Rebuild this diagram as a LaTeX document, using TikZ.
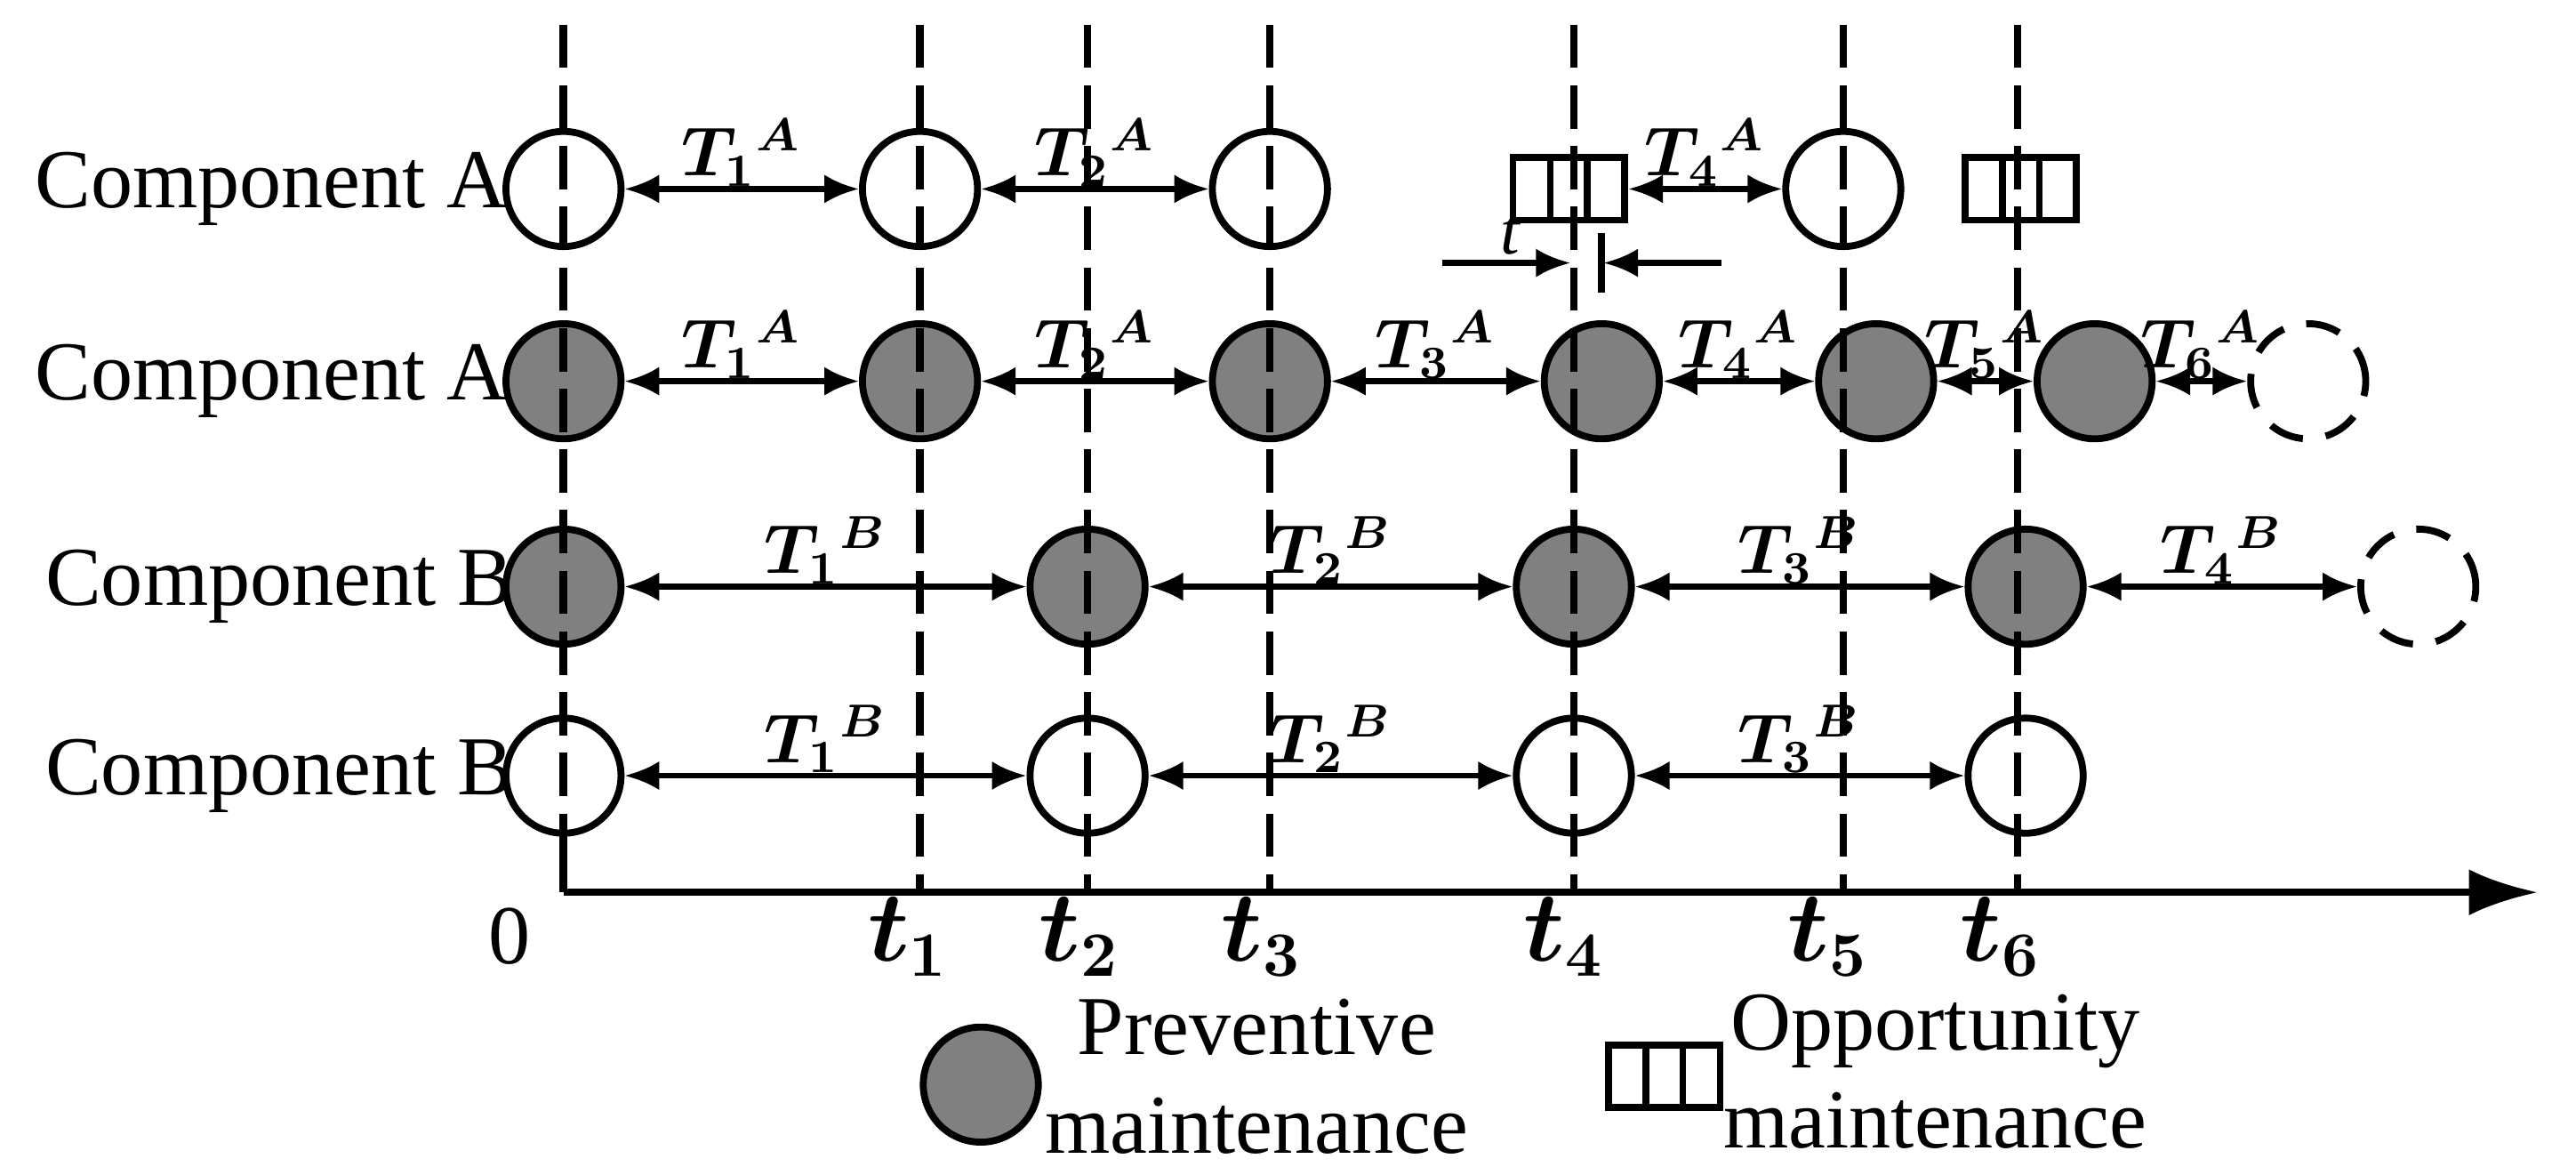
\documentclass[tikz,border=0pt]{standalone}
\usepackage{fontspec}
\usepackage{amsmath,bm}
\setmainfont{Liberation Serif}
\usetikzlibrary{arrows.meta}
\begin{document}
\begin{tikzpicture}[x=0.01cm,y=-0.01cm,
  pm/.style={circle,draw,line width=1.2pt,fill=black!50,minimum size=0.7cm,inner sep=0},
  wc/.style={circle,draw,line width=1.2pt,fill=white,minimum size=0.7cm,inner sep=0},
  dc/.style={circle,draw,line width=1.2pt,dash pattern=on 6pt off 4pt,minimum size=0.7cm,inner sep=0},
  om/.style={draw,line width=1.2pt,fill=white,minimum width=0.68cm,minimum height=0.38cm,inner sep=0,
    path picture={\draw[line width=1.2pt] ([xshift=-0.113cm]path picture bounding box.north) -- ([xshift=-0.113cm]path picture bounding box.south);
      \draw[line width=1.2pt] ([xshift=0.113cm]path picture bounding box.north) -- ([xshift=0.113cm]path picture bounding box.south);}},
  dl/.style={line width=1.3pt,dash pattern=on 7.5pt off 3pt},
  ar/.style={{Latex[length=6pt,width=5pt]}-{Latex[length=6pt,width=5pt]},line width=1pt},
  tl/.style={font=\fontsize{12}{14}\selectfont,inner sep=1pt,above=-1pt},
  txt/.style={font=\fontsize{14.5}{17}\selectfont}]
\useasboundingbox (0,0) rectangle (1568,710);
% row labels
\node[txt] (la1) at (165,115) {Component A};
\node[txt] (la2) at (165,232) {Component A};
\node[txt] (lb1) at (170,357) {Component B};
\node[txt] (lb2) at (170,472) {Component B};
% row 1
\node[wc] (a1) at (343,115) {};
\node[wc] (a2) at (560,115) {};
\node[wc] (a3) at (773,115) {};
\node[om] (a4) at (955,115) {};
\node[wc] (a5) at (1122,115) {};
\node[om] (a6) at (1230,115) {};
% row 2
\node[pm] (b1) at (343,232) {};
\node[pm] (b2) at (560,232) {};
\node[pm] (b3) at (773,232) {};
\node[pm] (b4) at (975,232) {};
\node[pm] (b5) at (1142,232) {};
\node[pm] (b6) at (1275,232) {};
\node[dc] (b7) at (1405,232) {};
% row 3
\node[pm] (c1) at (343,357) {};
\node[pm] (c2) at (662,357) {};
\node[pm] (c3) at (958,357) {};
\node[pm] (c4) at (1233,357) {};
\node[dc] (c5) at (1472,357) {};
% row 4
\node[wc] (d1) at (343,472) {};
\node[wc] (d2) at (662,472) {};
\node[wc] (d3) at (958,472) {};
\node[wc] (d4) at (1233,472) {};
% axis
\coordinate (o) at (343,543);
\coordinate (xe) at (1545,543);
\draw[line width=1.3pt,-{Latex[length=12pt,width=8pt]}] (o) -- (xe);
\draw[line width=1.3pt] (343,505) -- (o);
% dashed verticals
\foreach \x/\n in {343/0,560/1,662/2,773/3,958/4,1122/5,1228/6}{
  \coordinate (top\n) at (\x,15);
  \coordinate (bot\n) at (\x,543);
  \draw[dl] (top\n) -- (bot\n);
}
% small tick for delta t
\coordinate (dt1) at (975,142);
\coordinate (dt2) at (975,178);
\draw[line width=1.2pt] (dt1) -- (dt2);
% arrows row 1
\draw[ar] (a1) -- node[tl]{$\bm{T_1{}^A}$} (a2);
\draw[ar] (a2) -- node[tl]{$\bm{T_2{}^A}$} (a3);
\draw[ar] (a4) -- node[tl]{$\bm{T_4{}^A}$} (a5);
% delta t
\coordinate (dl0) at (878,160);
\coordinate (dl1) at (956,160);
\coordinate (dr0) at (1048,160);
\coordinate (dr1) at (976,160);
\draw[line width=1pt,-{Latex[length=6pt,width=5pt]}] (dl0) -- (dl1);
\draw[line width=1pt,-{Latex[length=6pt,width=5pt]}] (dr0) -- (dr1);
\node[font=\fontsize{12}{14}\selectfont,inner sep=1pt] (dtl) at (903,143) {$\mathit{\Delta t}$};
% arrows row 2
\draw[ar] (b1) -- node[tl]{$\bm{T_1{}^A}$} (b2);
\draw[ar] (b2) -- node[tl]{$\bm{T_2{}^A}$} (b3);
\draw[ar] (b3) -- node[tl]{$\bm{T_3{}^A}$} (b4);
\draw[ar] (b4) -- node[tl]{$\bm{T_4{}^A}$} (b5);
\draw[ar] (b5) -- node[tl]{$\bm{T_5{}^A}$} (b6);
\draw[ar] (b6) -- node[tl]{$\bm{T_6{}^A}$} (b7);
% arrows row 3
\draw[ar] (c1) -- node[tl]{$\bm{T_1{}^B}$} (c2);
\draw[ar] (c2) -- node[tl]{$\bm{T_2{}^B}$} (c3);
\draw[ar] (c3) -- node[tl]{$\bm{T_3{}^B}$} (c4);
\draw[ar] (c4) -- node[tl]{$\bm{T_4{}^B}$} (c5);
% arrows row 4
\draw[ar] (d1) -- node[tl]{$\bm{T_1{}^B}$} (d2);
\draw[ar] (d2) -- node[tl]{$\bm{T_2{}^B}$} (d3);
\draw[ar] (d3) -- node[tl]{$\bm{T_3{}^B}$} (d4);
% axis labels
\node[txt] (l0) at (310,570) {0};
\foreach \x/\n in {553/1,657/2,768/3,952/4,1113/5,1218/6}{
  \node[font=\fontsize{16}{18}\selectfont] (lt\n) at (\x,570) {$\bm{t_{\n}}$};
}
% legend
\node[pm] (lg1) at (597,660) {};
\node[txt,align=center] (lg1t) at (765,655) {Preventive\\maintenance};
\node[om] (lg2) at (1013,655) {};
\node[txt,align=center] (lg2t) at (1178,652) {Opportunity\\maintenance};
\end{tikzpicture}
\end{document}
